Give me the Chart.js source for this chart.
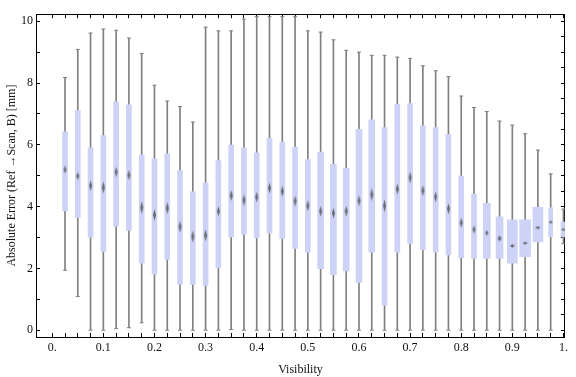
<!DOCTYPE html>
<html>
<head>
<meta charset="utf-8">
<script src="https://cdn.jsdelivr.net/npm/chart.js@4.4.1/dist/chart.umd.min.js"></script>
<style>
  html, body { margin: 0; padding: 0; background: #fff; }
</style>
</head>
<body>
<canvas id="chart" width="576" height="377"></canvas>
<script>
// one box per visibility bin
const visibility = [0.025, 0.05, 0.075, 0.1, 0.125, 0.15, 0.175, 0.2, 0.225, 0.25,
  0.275, 0.3, 0.325, 0.35, 0.375, 0.4, 0.425, 0.45, 0.475, 0.5,
  0.525, 0.55, 0.575, 0.6, 0.625, 0.65, 0.675, 0.7, 0.725, 0.75,
  0.775, 0.8, 0.825, 0.85, 0.875, 0.9, 0.925, 0.95, 0.975, 1.0];
const whiskerLow = [1.94, 1.09, 0, 0, 0.05, 0.08, 0.24, 0, 0, 0,
  0, 0, 0, 0.02, 0, 0, 0, 0, 0, 0,
  0, 0, 0, 0, 0, 0, 0, 0, 0, 0,
  0, 0, 0, 0, 0, 0, 0, 0, 0, 2.80];
const q1 = [3.86, 3.65, 3.01, 2.55, 3.37, 3.23, 2.17, 1.82, 2.29, 1.48,
  1.48, 1.45, 2.02, 3.02, 3.10, 2.99, 3.15, 2.97, 2.65, 2.52,
  1.99, 1.80, 1.92, 1.55, 2.53, 0.81, 2.53, 2.81, 2.61, 2.53,
  2.44, 2.35, 2.32, 2.32, 2.32, 2.17, 2.38, 2.86, 3.03, 3.02];
const median = [5.20, 4.99, 4.68, 4.62, 5.12, 5.02, 3.97, 3.73, 3.95, 3.35,
  3.03, 3.07, 3.85, 4.36, 4.21, 4.31, 4.60, 4.50, 4.18, 4.03,
  3.85, 3.79, 3.85, 4.19, 4.39, 4.03, 4.57, 4.94, 4.52, 4.32,
  3.93, 3.48, 3.26, 3.15, 2.97, 2.73, 2.82, 3.32, 3.50, 3.26];
const q3 = [6.42, 7.11, 5.90, 6.30, 7.39, 7.30, 5.67, 5.55, 5.71, 5.17,
  4.48, 4.76, 5.49, 5.99, 5.90, 5.74, 6.21, 6.09, 5.93, 5.52,
  5.77, 5.37, 5.24, 6.50, 6.81, 6.56, 7.31, 7.34, 6.62, 6.56,
  6.34, 4.99, 4.41, 4.11, 3.67, 3.57, 3.57, 3.98, 3.97, 3.50];
const whiskerHigh = [8.18, 9.09, 9.62, 9.75, 9.71, 9.46, 8.96, 7.93, 7.42, 7.24,
  6.74, 9.81, 9.69, 9.69, 10.07, 10.15, 10.15, 10.15, 10.15, 9.69,
  9.65, 9.40, 9.06, 9.00, 8.90, 8.90, 8.84, 8.80, 8.56, 8.40,
  8.21, 7.58, 7.21, 7.08, 6.77, 6.64, 6.36, 5.83, 5.06, 3.92];

const xTickValues = [0, 0.1, 0.2, 0.3, 0.4, 0.5, 0.6, 0.7, 0.8, 0.9, 1.0];
const xTickLabels = ['0.', '0.1', '0.2', '0.3', '0.4', '0.5', '0.6', '0.7', '0.8', '0.9', '1.'];
const yTickValues = [0, 2, 4, 6, 8, 10];
const yTickLabels = ['0', '2', '4', '6', '8', '10'];

// drawing sizes (px): box width, median mark width/height
const boxPx = [5, 5, 5, 5, 5, 5, 5, 5, 5, 5,
  5, 5, 5, 5, 5, 5, 5, 5, 5, 5,
  6, 6, 6, 6, 6, 5, 5, 5, 5, 5,
  5, 5, 5, 7, 7, 10, 11, 10, 4, 5];
const markW = [3, 3, 3, 3, 3, 3, 3, 3, 3, 3,
  3, 3, 3, 3, 3, 3, 3, 3, 3, 3,
  3, 3, 3, 3, 3, 3, 3, 3, 3, 3,
  3, 3, 3, 3, 4, 5, 5, 5, 4, 4];
const markH = [8, 8, 11, 12, 10, 10, 13, 12, 12, 12,
  12, 12, 10, 11, 12, 11, 11, 11, 11, 11,
  11, 11, 11, 11, 13, 13, 11, 12, 11, 11,
  11, 10, 8, 6, 6, 3.5, 3, 3, 3, 3];

const BOX = '#CDD3F6';
const WHISK = '#808080';
const FONT = "'Liberation Serif', 'DejaVu Serif', serif";

// x range picked so each 0.025 step is 13px and the whiskers land on pixel centres
const X_MIN = -0.0317308, X_MAX = 1.0028846;
const Y_MIN = -0.22, Y_MAX = 10.23;

const markCache = {};
function diamond(w, h) {
  const key = w + 'x' + h;
  if (markCache[key]) return markCache[key];
  const c = document.createElement('canvas');
  c.width = Math.ceil(w) + 2;
  c.height = Math.ceil(h) + 2;
  const g = c.getContext('2d');
  const cx = c.width / 2, cy = c.height / 2;
  g.fillStyle = 'rgba(100,100,105,0.95)';
  g.beginPath();
  g.moveTo(cx, cy - h / 2);
  g.lineTo(cx + w / 2, cy);
  g.lineTo(cx, cy + h / 2);
  g.lineTo(cx - w / 2, cy);
  g.closePath();
  g.fill();
  markCache[key] = c;
  return c;
}

// one bar dataset per box width
let datasets = [];
const widths = [...new Set(boxPx)];
widths.forEach(w => {
  let pts = [];
  visibility.forEach((v, i) => {
    if (boxPx[i] === w) pts.push({ x: v, y: [q1[i], q3[i]] });
  });
  datasets.push({
    type: 'bar', data: pts, backgroundColor: BOX, borderWidth: 0,
    barThickness: w, stack: 'all', order: 1, clip: 0
  });
});

// whiskers
datasets.push({
  type: 'bar',
  data: visibility.map((v, i) => ({ x: v, y: [whiskerLow[i], whiskerHigh[i]] })),
  backgroundColor: WHISK, borderWidth: 0, barThickness: 1, stack: 'all', order: 3, clip: 0
});

// whisker caps
datasets.push({
  type: 'scatter',
  data: visibility.map((v, i) => ({ x: v, y: whiskerLow[i] })).concat(
    visibility.map((v, i) => ({ x: v, y: whiskerHigh[i] }))),
  pointStyle: 'line', radius: 2, borderColor: WHISK, borderWidth: 1, order: 2, clip: 0
});

// medians
datasets.push({
  type: 'scatter',
  data: visibility.map((v, i) => ({ x: v, y: median[i] })),
  pointStyle: ctx => diamond(markW[ctx.dataIndex], markH[ctx.dataIndex]),
  radius: 4, order: 0, clip: 0
});

function fixTicks(values) {
  return s => { s.ticks = values.map(v => ({ value: v })); };
}
let xMinor = [];
for (let i = 0; i <= 40; i++) xMinor.push(i * 0.025);
let yMinor = [];
for (let i = 0; i <= 20; i++) yMinor.push(i * 0.5);

const frameGrid = { drawOnChartArea: false, drawTicks: true, tickLength: -4, color: '#000' };
const frameBorder = { display: true, color: '#000', width: 1 };

new Chart(document.getElementById('chart'), {
  type: 'bar',
  data: { datasets: datasets },
  options: {
    responsive: false,
    animation: false,
    layout: { padding: 0 },
    plugins: { legend: { display: false }, tooltip: { enabled: false } },
    scales: {
      x: {
        type: 'linear', position: 'bottom', min: X_MIN, max: X_MAX, offset: false,
        grid: Object.assign({ offset: false }, frameGrid), border: frameBorder,
        afterBuildTicks: fixTicks(xMinor),
        afterFit: s => { s.height = 40; },
        ticks: {
          autoSkip: false, maxRotation: 0, padding: 8, color: '#111',
          font: { family: FONT, size: 12 },
          callback: v => {
            const k = xTickValues.findIndex(t => Math.abs(t - v) < 1e-6);
            return k >= 0 ? xTickLabels[k] : '';
          }
        },
        title: { display: true, text: 'Visibility', color: '#111', font: { family: FONT, size: 12 }, padding: 0 }
      },
      x2: {
        type: 'linear', position: 'top', min: X_MIN, max: X_MAX, offset: false,
        grid: Object.assign({ offset: false }, frameGrid), border: frameBorder,
        afterBuildTicks: fixTicks(xMinor),
        afterFit: s => { s.height = 4; },
        ticks: { display: false }
      },
      y: {
        type: 'linear', position: 'left', min: Y_MIN, max: Y_MAX, stacked: false, beginAtZero: false,
        grid: frameGrid, border: frameBorder,
        afterBuildTicks: fixTicks(yMinor),
        afterFit: s => { s.width = 36; },
        ticks: {
          padding: 7, color: '#111', font: { family: FONT, size: 12 },
          callback: v => {
            const k = yTickValues.findIndex(t => Math.abs(t - v) < 1e-6);
            return k >= 0 ? yTickLabels[k] : '';
          }
        },
        title: { display: true, text: 'Absolute Error (Ref \u2192Scan, B) [mm]', color: '#111', font: { family: FONT, size: 12 }, padding: 5 }
      },
      y2: {
        type: 'linear', position: 'right', min: Y_MIN, max: Y_MAX,
        grid: frameGrid, border: frameBorder,
        afterBuildTicks: fixTicks(yMinor),
        afterFit: s => { s.width = 2; },
        ticks: { display: false }
      }
    }
  }
});
</script>
</body>
</html>
